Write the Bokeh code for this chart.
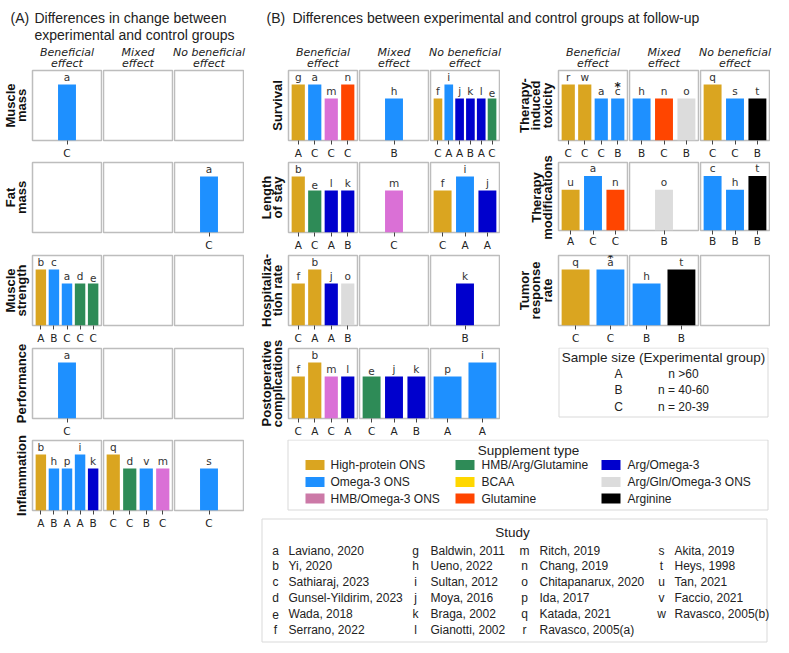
import numpy as np
from bokeh.plotting import figure
from bokeh.models import Range1d, ColumnDataSource, FixedTicker, Label
from bokeh.layouts import row, column
from bokeh.core.properties import value
from bokeh.embed import file_html
from bokeh.resources import INLINE

# ---------------- data ----------------
supp_codes = ["HP", "O3", "HO3", "HAG", "BCAA", "GLN", "AO3", "AGO3", "ARG"]
supp_names = ["High-protein ONS", "Omega-3 ONS", "HMB/Omega-3 ONS",
              "HMB/Arg/Glutamine", "BCAA", "Glutamine",
              "Arg/Omega-3", "Arg/Gln/Omega-3 ONS", "Arginine"]
supp_colors = ["#DAA520", "#1E90FF", "#DA70D6", "#2E8B57", "#FFD700",
               "#FF4500", "#0000CD", "#DCDCDC", "#000000"]
legend_swatch_colors = ["#DAA520", "#1E90FF", "#CC79A7", "#2E8B57", "#FFD700",
                        "#FF4500", "#0000CD", "#DCDCDC", "#000000"]

study_letters = list("abcdefghijklmnopqrstuvw")
study_names = ["Laviano, 2020", "Yi, 2020", "Sathiaraj, 2023", "Gunsel-Yildirim, 2023",
               "Wada, 2018", "Serrano, 2022", "Baldwin, 2011", "Ueno, 2022",
               "Sultan, 2012", "Moya, 2016", "Braga, 2002", "Gianotti, 2002",
               "Ritch, 2019", "Chang, 2019", "Chitapanarux, 2020", "Ida, 2017",
               "Katada, 2021", "Ravasco, 2005(a)", "Akita, 2019", "Heys, 1998",
               "Tan, 2021", "Faccio, 2021", "Ravasco, 2005(b)"]

size_codes = ["A", "B", "C"]
size_ranges = ["n >60", "n = 40-60", "n = 20-39"]

effect_headers = [["Beneficial", "effect"], ["Mixed", "effect"], ["No beneficial", "effect"]]

# each outcome: [beneficial, mixed, no beneficial]
muscle_mass_study = [["a"], [], []]
muscle_mass_supp = [["O3"], [], []]
muscle_mass_size = [["C"], [], []]
muscle_mass_value = [[4], [], []]

fat_mass_study = [[], [], ["a"]]
fat_mass_supp = [[], [], ["O3"]]
fat_mass_size = [[], [], ["C"]]
fat_mass_value = [[], [], [4]]

strength_study = [["b", "c", "a", "d", "e"], [], []]
strength_supp = [["HP", "O3", "O3", "HAG", "HAG"], [], []]
strength_size = [["A", "B", "C", "C", "C"], [], []]
strength_value = [[4, 4, 3, 3, 3], [], []]

performance_study = [["a"], [], []]
performance_supp = [["O3"], [], []]
performance_size = [["C"], [], []]
performance_value = [[4], [], []]

inflam_study = [["b", "h", "p", "i", "k"], ["q", "d", "v", "m"], ["s"]]
inflam_supp = [["HP", "O3", "O3", "O3", "AO3"], ["HP", "HAG", "O3", "HO3"], ["O3"]]
inflam_size = [["A", "B", "A", "A", "B"], ["C", "C", "B", "C"], ["C"]]
inflam_value = [[4, 3, 3, 4, 3], [4, 3, 3, 3], [3]]

survival_study = [["g", "a", "m", "n"], ["h"], ["f", "i", "j", "k", "l", "e"]]
survival_supp = [["HP", "O3", "HO3", "GLN"], ["O3"], ["HP", "O3", "AO3", "AO3", "AO3", "HAG"]]
survival_size = [["A", "C", "C", "C"], ["B"], ["C", "A", "A", "B", "A", "C"]]
survival_value = [[4, 4, 3, 4], [3], [3, 4, 3, 3, 3, 3]]

los_study = [["b", "e", "l", "k"], ["m"], ["f", "i", "j"]]
los_supp = [["HP", "HAG", "AO3", "AO3"], ["HO3"], ["HP", "O3", "AO3"]]
los_size = [["A", "C", "A", "B"], ["C"], ["C", "A", "A"]]
los_value = [[4, 3, 3, 3], [3], [3, 4, 3]]

hosp_study = [["f", "b", "j", "o"], [], ["k"]]
hosp_supp = [["HP", "HP", "AO3", "AGO3"], [], ["AO3"]]
hosp_size = [["C", "A", "A", "B"], [], ["B"]]
hosp_value = [[3, 4, 3, 3], [], [3]]

postop_study = [["f", "b", "m", "l"], ["e", "j", "k"], ["p", "i"]]
postop_supp = [["HP", "HP", "HO3", "AO3"], ["HAG", "AO3", "AO3"], ["O3", "O3"]]
postop_size = [["C", "A", "C", "A"], ["C", "A", "B"], ["A", "A"]]
postop_value = [[3, 4, 3, 3], [3, 3, 3], [3, 4]]

tox_study = [["r", "w", "a", "c"], ["h", "n", "o"], ["q", "s", "t"]]
tox_supp = [["HP", "HP", "O3", "O3"], ["O3", "GLN", "AGO3"], ["HP", "O3", "ARG"]]
tox_size = [["C", "C", "C", "B"], ["B", "C", "B"], ["C", "C", "B"]]
tox_value = [[4, 4, 3, 3], [3, 3, 3], [4, 3, 3]]
tox_starred = [["c"], [], []]

mod_study = [["u", "a", "n"], ["o"], ["c", "h", "t"]]
mod_supp = [["HP", "O3", "GLN"], ["AGO3"], ["O3", "O3", "ARG"]]
mod_size = [["A", "C", "C"], ["B"], ["B", "B", "B"]]
mod_value = [[3, 4, 3], [3], [4, 3, 4]]

tumor_study = [["q", "a"], ["h", "t"], []]
tumor_supp = [["HP", "O3"], ["O3", "ARG"], []]
tumor_size = [["C", "C"], ["B", "B"], []]
tumor_value = [[4, 4], [3, 4], []]
tumor_starred = [["a"], [], []]

SUPP_COLOR = dict(zip(supp_codes, supp_colors))

# ---------------- helpers ----------------
SANS = value("Liberation Sans")
DJV = value("DejaVu Sans")
TXT = "#222222"
FRAME_H = 70


def canvas(x0, y0, w, h, flip=True):
    yr = Range1d(y0 + h, y0) if flip else Range1d(-(y0 + h), -y0)
    p = figure(width=w, height=h, x_range=Range1d(x0, x0 + w), y_range=yr,
               min_border=0, min_border_left=0, min_border_right=0, min_border_top=0,
               min_border_bottom=0, toolbar_location=None, output_backend="svg",
               x_axis_location=None, y_axis_location=None, outline_line_color=None)
    p.grid.visible = False
    return p


def make_panel(study, supp, size, val, starred, top, bottom):
    n = len(study)
    nslots = 3 if n == 1 else max(n, 1)
    pos = [1] if n == 1 else list(range(n))
    m = 0.05 * (nslots - 0.2)
    p = figure(width=71, height=top + FRAME_H + bottom,
               x_range=Range1d(-0.4 - m, nslots - 0.6 + m), y_range=Range1d(0, 5),
               min_border_left=1, min_border_right=1, min_border_top=top,
               min_border_bottom=bottom, toolbar_location=None, output_backend="svg",
               y_axis_location=None, x_axis_location="below" if n else None)
    p.grid.visible = False
    p.outline_line_color = "#bdbdbd"
    p.outline_line_width = 1.5
    if n:
        src = ColumnDataSource(dict(x=pos, top=val, color=[SUPP_COLOR[s] for s in supp],
                                    study=study))
        p.vbar(x="x", top="top", bottom=0, width=0.8, fill_color="color",
               line_color=None, source=src)
        p.text(x="x", y="top", text="study", source=src, text_align="center",
               text_baseline="bottom", y_offset=-2, text_font=DJV,
               text_font_size="10.5px", text_color="#333333")
        for s in starred:
            j = study.index(s)
            p.add_layout(Label(x=pos[j], y=val[j] + 0.8, text="*", text_align="center",
                               text_baseline="middle", text_font="DejaVu Sans",
                               text_font_style="bold", text_font_size="12px",
                               text_color="#222222"))
        ax = p.xaxis[0]
        ax.ticker = FixedTicker(ticks=pos)
        ax.major_label_overrides = {x: s for x, s in zip(pos, size)}
        ax.axis_line_color = None
        ax.major_tick_in = 0
        ax.major_tick_out = 4
        ax.major_tick_line_color = "#444444"
        ax.minor_tick_line_color = None
        ax.major_label_standoff = 2 if bottom >= 20 else 0
        ax.major_label_text_font = "DejaVu Sans"
        ax.major_label_text_font_size = "10.5px"
        ax.major_label_text_color = "#222222"
    return p


def label_column(x0, y0, w, labels, specs, frame_left):
    """One tall canvas holding the row labels of a whole column of panels."""
    total = sum(t + FRAME_H + b for t, b in specs)
    p = canvas(x0, y0, w, total, flip=False)
    xs, ys, ts = [], [], []
    top = y0
    for lines, (t, b) in zip(labels, specs):
        k = len(lines)
        pitch = 11.5 if k == 3 else 11
        for j, line in enumerate(lines):
            xs.append(frame_left - 11.5 - pitch * (k - 1 - j))
            ys.append(-(top + t + FRAME_H / 2))
            ts.append(line)
        top += t + FRAME_H + b
    p.text(x=xs, y=ys, text=ts, angle=np.pi / 2, text_align="center",
           text_baseline="middle", text_font=SANS, text_font_style="bold",
           text_font_size="13px", text_color="#111111")
    return p


def header_texts(p, centers):
    for c, (l1, l2) in zip(centers, effect_headers):
        p.text(x=[c, c], y=[52, 62.5], text=[l1, l2], text_align="center",
               text_baseline="middle", text_font=DJV, text_font_style="italic",
               text_font_size="11px", text_color=TXT)


# (top border, bottom border) of each panel row
SPEC_AB = [(1, 21), (1, 22), (1, 22), (1, 21), (1, 21)]
SPEC_C = [(1, 21), (1, 17), (6, 22)]


def panel_rows(rows, specs, stars=None):
    out = []
    for i, (r, (t, b)) in enumerate(zip(rows, specs)):
        st, sp, sz, vl = r[1], r[2], r[3], r[4]
        stl = r[5] if len(r) > 5 else [[], [], []]
        out.append(row(*[make_panel(st[k], sp[k], sz[k], vl[k], stl[k], t, b)
                         for k in range(3)]))
    return out


# ---------------- panel A ----------------
topA = canvas(0, 0, 258, 69)
topA.text(x=[10, 34, 34], y=[17, 17, 34],
          text=["(A)", "Differences in change between", "experimental and control groups"],
          text_align="left", text_baseline="middle", text_font=SANS,
          text_font_size="14px", text_color=TXT)
header_texts(topA, [66.5, 137.5, 208.5])

A_rows = [
    (["Muscle", "mass"], muscle_mass_study, muscle_mass_supp, muscle_mass_size, muscle_mass_value),
    (["Fat", "mass"], fat_mass_study, fat_mass_supp, fat_mass_size, fat_mass_value),
    (["Muscle", "strength"], strength_study, strength_supp, strength_size, strength_value),
    (["Performance"], performance_study, performance_supp, performance_size, performance_value),
    (["Inflammation"], inflam_study, inflam_supp, inflam_size, inflam_value),
]
rowsA = panel_rows(A_rows, SPEC_AB)
labA = label_column(0, 69, 31, [r[0] for r in A_rows], SPEC_AB, 32)
colA = column(topA, row(labA, column(*rowsA)))

# ---------------- panel B / C ----------------
topBC = canvas(258, 0, 525, 69)
topBC.text(x=[266, 292], y=[17, 17],
           text=["(B)", "Differences between experimental and control groups at follow-up"],
           text_align="left", text_baseline="middle", text_font=SANS,
           text_font_size="14px", text_color=TXT)
header_texts(topBC, [322.5, 393.5, 464.5])
header_texts(topBC, [592.5, 663.5, 734.5])

B_rows = [
    (["Survival"], survival_study, survival_supp, survival_size, survival_value),
    (["Length", "of stay"], los_study, los_supp, los_size, los_value),
    (["Hospitaliza-", "tion rate"], hosp_study, hosp_supp, hosp_size, hosp_value),
    (["Postoperative", "complications"], postop_study, postop_supp, postop_size, postop_value),
]
rowsB = panel_rows(B_rows, SPEC_AB[:4])
labB = label_column(258, 69, 29, [r[0] for r in B_rows], SPEC_AB[:4], 288)
colB = row(labB, column(*rowsB))

C_rows = [
    (["Therapy-", "induced", "toxicity"], tox_study, tox_supp, tox_size, tox_value, tox_starred),
    (["Therapy", "modifications"], mod_study, mod_supp, mod_size, mod_value),
    (["Tumor", "response", "rate"], tumor_study, tumor_supp, tumor_size, tumor_value, tumor_starred),
]
rowsC = panel_rows(C_rows, SPEC_C)
labC = label_column(500, 69, 57, [r[0] for r in C_rows], SPEC_C, 558)
y = 69 + sum(t + FRAME_H + b for t, b in SPEC_C)

# sample size box
samp = canvas(500, y, 275, 439 - y)
samp.quad(left=[558.5], right=[767.5], top=[347.5], bottom=[416.5], fill_color=None,
          line_color="#d9d9d9", line_width=1)
samp.text(x=[663], y=[357], text=["Sample size (Experimental group)"], text_align="center",
          text_baseline="middle", text_font=SANS, text_font_size="13.5px", text_color=TXT)
sy = [373 + 16.5 * i for i in range(len(size_codes))]
samp.text(x=[618] * len(size_codes), y=sy, text=size_codes, text_align="center",
          text_baseline="middle", text_font=SANS, text_font_size="12px", text_color=TXT)
samp.text(x=[683] * len(size_ranges), y=sy, text=size_ranges, text_align="center",
          text_baseline="middle", text_font=SANS, text_font_size="12px", text_color=TXT)
colC = column(row(labC, column(*rowsC)), samp)

# supplement legend
leg = canvas(258, 439, 525, 76)
leg.quad(left=[287.5], right=[767.5], top=[439.5], bottom=[509.5], fill_color=None,
         line_color="#d9d9d9", line_width=1)
leg.text(x=[528], y=[449.5], text=["Supplement type"], text_align="center",
         text_baseline="middle", text_font=SANS, text_font_size="13.5px", text_color=TXT)
sw_x = [305, 455, 601]
tx_x = [330, 481, 627]
row_y = [464.5, 481.5, 498]
lc = [i // 3 for i in range(len(supp_names))]
lr = [i % 3 for i in range(len(supp_names))]
leg.quad(left=[sw_x[c] for c in lc], right=[sw_x[c] + 19 for c in lc],
         top=[row_y[r] - 5 for r in lr], bottom=[row_y[r] + 5 for r in lr],
         fill_color=legend_swatch_colors, line_color=None)
leg.text(x=[tx_x[c] for c in lc], y=[row_y[r] for r in lr], text=supp_names,
         text_align="left", text_baseline="middle", text_font=SANS,
         text_font_size="12px", text_color=TXT)

# study legend
stud = canvas(258, 515, 525, 130)
stud.quad(left=[261.5], right=[766.5], top=[518.5], bottom=[641.5], fill_color=None,
          line_color="#d9d9d9", line_width=1)
stud.text(x=[512], y=[532], text=["Study"], text_align="center", text_baseline="middle",
          text_font=SANS, text_font_size="13.5px", text_color=TXT)
let_x = [275, 415, 524, 661]
nam_x = [288, 430, 539, 674]
sc = [i // 6 for i in range(len(study_letters))]
sr = [i % 6 for i in range(len(study_letters))]
st_y = [550 + 15.9 * r for r in sr]
stud.text(x=[let_x[c] for c in sc], y=st_y, text=study_letters, text_align="center",
          text_baseline="middle", text_font=SANS, text_font_size="12px", text_color=TXT)
stud.text(x=[nam_x[c] for c in sc], y=st_y, text=study_names, text_align="left",
          text_baseline="middle", text_font=SANS, text_font_size="12px", text_color=TXT)

colBC = column(topBC, row(colB, colC), leg, stud)
layout = row(colA, colBC)

open("out.html", "w").write(file_html(layout, INLINE))
